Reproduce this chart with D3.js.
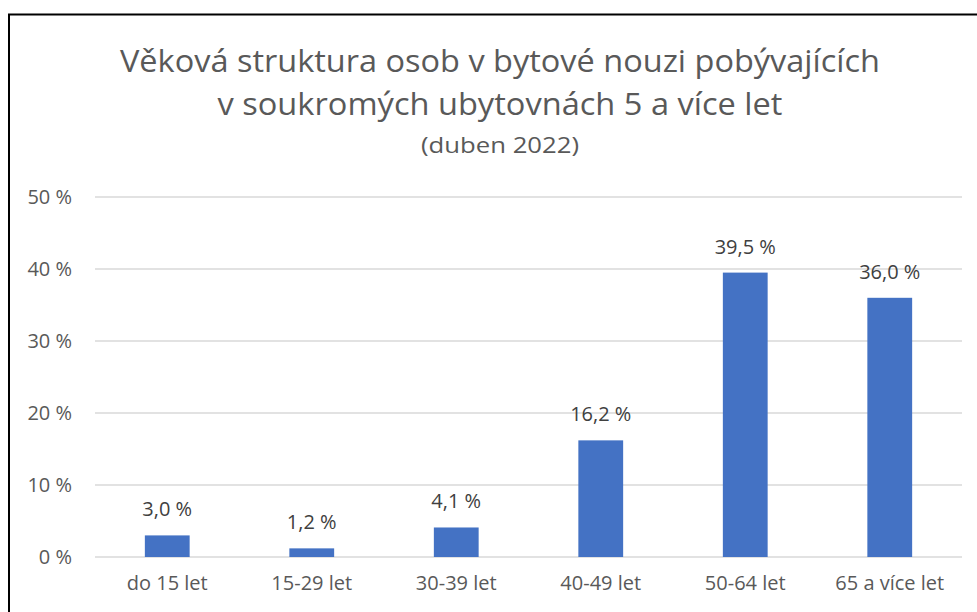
<!DOCTYPE html>
<html>
<head>
<meta charset="utf-8">
<script src="https://cdn.jsdelivr.net/npm/d3@7"></script>
<style>
  body { margin: 0; background: #fff; }
  svg { display: block; font-family: "Open Sans", "Noto Sans", sans-serif; }
</style>
</head>
<body>
<div id="chart"></div>
<script>
var categories = ["do 15 let", "15-29 let", "30-39 let", "40-49 let", "50-64 let", "65 a více let"];
var values = [3.0, 1.2, 4.1, 16.2, 39.5, 36.0];
var yTicks = [0, 10, 20, 30, 40, 50];
var titleLines = ["Věková struktura osob v bytové nouzi pobývajících", "v soukromých ubytovnách 5 a více let"];
var subtitle = "(duben 2022)";

var W = 977, H = 612;
var margin = {top: 197, right: 15, bottom: 55, left: 95},
    width = W - margin.left - margin.right,
    height = H - margin.top - margin.bottom;

var textColor = "#595959";

var svg = d3.select("#chart")
  .append("svg")
    .attr("width", W)
    .attr("height", H);

// outer frame
svg.append("rect")
  .attr("x", 9).attr("y", 14.5)
  .attr("width", 990).attr("height", 620)
  .attr("fill", "none")
  .attr("stroke", "#000")
  .attr("stroke-width", 2);

// titles
svg.selectAll(".title")
  .data(titleLines)
  .enter()
  .append("text")
    .attr("class", "title")
    .attr("x", 500)
    .attr("y", function(d, i) { return 72 + i * 43; })
    .attr("text-anchor", "middle")
    .attr("fill", textColor)
    .style("font-size", "31px")
    .attr("textLength", function(d, i) { return i == 0 ? 760 : 565; })
    .attr("lengthAdjust", "spacingAndGlyphs")
    .text(function(d) { return d; });

svg.append("text")
  .attr("x", 500)
  .attr("y", 153)
  .attr("text-anchor", "middle")
  .attr("fill", textColor)
  .style("font-size", "21px")
  .attr("textLength", 158)
  .attr("lengthAdjust", "spacingAndGlyphs")
  .text(subtitle);

var g = svg.append("g")
  .attr("transform", "translate(" + margin.left + "," + margin.top + ")");

var x = d3.scaleBand()
  .domain(categories)
  .range([0, width])
  .paddingInner(0.69)
  .paddingOuter(0.345);

var y = d3.scaleLinear()
  .domain([0, 50])
  .range([height, 0]);

// gridlines
g.selectAll(".grid")
  .data(yTicks)
  .enter()
  .append("line")
    .attr("x1", 0)
    .attr("x2", width)
    .attr("y1", function(d) { return y(d); })
    .attr("y2", function(d) { return y(d); })
    .attr("stroke", "#d9d9d9")
    .attr("stroke-width", 1.5);

// y axis labels
var yAxis = g.append("g")
  .call(d3.axisLeft(y).tickValues(yTicks).tickSize(0).tickPadding(23)
    .tickFormat(function(d) { return d + " %"; }));
yAxis.select(".domain").remove();
yAxis.selectAll("text")
  .attr("fill", textColor)
  .style("font-size", "20px")
  .style("font-family", "'Open Sans', sans-serif");

// x axis labels
var xAxis = g.append("g")
  .attr("transform", "translate(0," + height + ")")
  .call(d3.axisBottom(x).tickSize(0).tickPadding(19));
xAxis.select(".domain").remove();
xAxis.selectAll("text")
  .attr("fill", textColor)
  .style("font-size", "20px")
  .style("font-family", "'Open Sans', sans-serif");

// bars
g.selectAll(".bar")
  .data(values)
  .enter()
  .append("rect")
    .attr("x", function(d, i) { return x(categories[i]); })
    .attr("y", function(d) { return y(d); })
    .attr("width", x.bandwidth())
    .attr("height", function(d) { return height - y(d); })
    .attr("fill", "#4472C4");

// data labels
g.selectAll(".lbl")
  .data(values)
  .enter()
  .append("text")
    .attr("x", function(d, i) { return x(categories[i]) + x.bandwidth() / 2; })
    .attr("y", function(d) { return y(d) - 19; })
    .attr("text-anchor", "middle")
    .attr("fill", "#404040")
    .style("font-size", "20px")
    .text(function(d) { return d.toFixed(1).replace(".", ",") + " %"; });
</script>
</body>
</html>
